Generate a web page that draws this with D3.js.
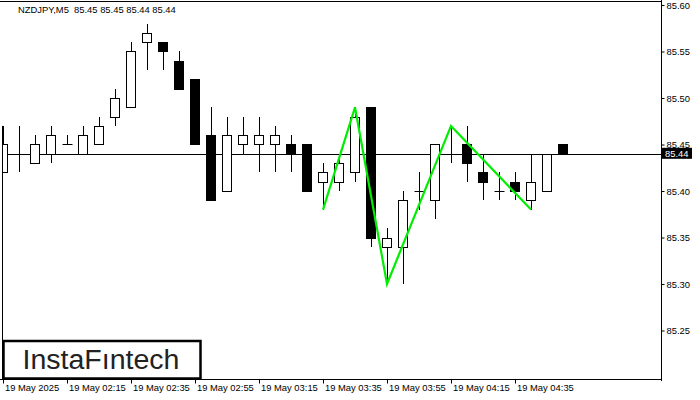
<!DOCTYPE html>
<html><head><meta charset="utf-8">
<script src="https://cdn.jsdelivr.net/npm/d3@7"></script>
<style>
html,body{margin:0;padding:0;background:#fff;}
svg{display:block;}
text{font-family:"Liberation Sans",Arial,sans-serif;}
</style></head>
<body>
<svg id="c" width="700" height="400"></svg>
<script>
const symbol = "NZDJPY,M5";
const lastOHLC = ["85.45","85.45","85.44","85.44"];
const times = ["01:55","02:00","02:05","02:10","02:15","02:20","02:25","02:30","02:35","02:40","02:45","02:50",
  "02:55","03:00","03:05","03:10","03:15","03:20","03:25","03:30","03:35","03:40","03:45","03:50",
  "03:55","04:00","04:05","04:10","04:15","04:20","04:25","04:30","04:35","04:40","04:45","04:50"];
const open  = [85.42,85.44,85.43,85.44,85.45,85.44,85.45,85.48,85.49,85.56,85.56,85.54,
  85.52,85.46,85.40,85.45,85.45,85.45,85.45,85.45,85.41,85.41,85.42,85.49,
  85.34,85.34,85.40,85.39,85.44,85.45,85.42,85.40,85.41,85.39,85.40,85.45];
const high  = [85.47,85.47,85.46,85.47,85.46,85.47,85.48,85.51,85.56,85.58,85.56,85.55,
  85.52,85.49,85.48,85.48,85.48,85.47,85.46,85.45,85.43,85.44,85.49,85.49,
  85.36,85.40,85.42,85.45,85.47,85.47,85.44,85.42,85.42,85.44,85.44,85.45];
const low   = [85.42,85.42,85.43,85.43,85.45,85.44,85.45,85.47,85.49,85.53,85.53,85.51,
  85.45,85.39,85.40,85.44,85.42,85.42,85.42,85.40,85.38,85.40,85.41,85.34,
  85.30,85.30,85.38,85.37,85.43,85.41,85.39,85.39,85.39,85.38,85.40,85.44];
const close = [85.45,85.44,85.45,85.46,85.45,85.46,85.47,85.50,85.55,85.57,85.55,85.51,
  85.45,85.39,85.46,85.46,85.46,85.46,85.44,85.40,85.42,85.43,85.48,85.35,
  85.35,85.39,85.40,85.45,85.44,85.43,85.41,85.40,85.40,85.41,85.44,85.44];
const currentPrice = 85.44;
const yTicks = [85.25,85.30,85.35,85.40,85.45,85.50,85.55,85.60];
const xTickTimes = ["01:55","02:15","02:35","02:55","03:15","03:35","03:55","04:15","04:35"];
const xTickLabels = ["19 May 2025","19 May 02:15","19 May 02:35","19 May 02:55","19 May 03:15","19 May 03:35","19 May 03:55","19 May 04:15","19 May 04:35"];
const patternTimes  = ["03:35","03:45","03:55","04:15","04:40"];
const patternPrices = [85.38,85.49,85.30,85.47,85.38];
const logoText = "InstaF\u0131ntech";

const parseT = s => { const [h,m] = s.split(":").map(Number); return new Date(2025,4,19,h,m); };
const svg = d3.select("#c");
const plotRight = 661, plotBottom = 379;

const x = d3.scaleTime().domain([parseT("01:55"), parseT("04:55")]).range([3, 579]);
const y = d3.scaleLinear().domain([85.25, 85.60]).range([330.5, 5]);

const candles = times.map((t,i)=>({t:parseT(t),o:open[i],h:high[i],l:low[i],c:close[i]}));

const clip = svg.append("defs").append("clipPath").attr("id","pc")
  .append("rect").attr("x",3).attr("y",3).attr("width",plotRight-3).attr("height",plotBottom-3);

// frame
svg.append("line").attr("x1",0).attr("x2",plotRight).attr("y1",1.5).attr("y2",1.5).attr("stroke","#000");
svg.append("line").attr("x1",2.5).attr("x2",2.5).attr("y1",y(high[0])).attr("y2",plotBottom).attr("stroke","#000");

const g = svg.append("g").attr("clip-path","url(#pc)");
// current price line
g.append("line").attr("x1",0).attr("x2",plotRight).attr("y1",Math.round(y(currentPrice))+0.5).attr("y2",Math.round(y(currentPrice))+0.5)
  .attr("stroke","#000").attr("stroke-width",1);

const cx = d => Math.round(x(d.t)) + 0.5;
// wicks
g.selectAll("line.wick").data(candles).join("line").attr("class","wick")
  .attr("x1",cx).attr("x2",cx).attr("y1",d=>Math.round(y(d.h))).attr("y2",d=>Math.round(y(d.l)))
  .attr("stroke","#000").attr("stroke-width",1);
// bodies
g.selectAll("rect.body").data(candles.filter(d=>d.o!==d.c)).join("rect").attr("class","body")
  .attr("x",d=>cx(d)-5).attr("width",9)
  .attr("y",d=>Math.round(y(Math.max(d.o,d.c)))+0.5)
  .attr("height",d=>Math.max(1,Math.round(y(Math.min(d.o,d.c)))-Math.round(y(Math.max(d.o,d.c)))))
  .attr("fill",d=>d.c>d.o?"#fff":"#000").attr("stroke","#000").attr("stroke-width",1);
// doji
g.selectAll("line.doji").data(candles.filter(d=>d.o===d.c)).join("line").attr("class","doji")
  .attr("x1",d=>cx(d)-5).attr("x2",d=>cx(d)+5)
  .attr("y1",d=>Math.round(y(d.o))+0.5).attr("y2",d=>Math.round(y(d.o))+0.5)
  .attr("stroke","#000");

// pattern line
const pts = patternTimes.map((t,i)=>[x(parseT(t)), y(patternPrices[i])]);
g.append("path").attr("d", d3.line()(pts)).attr("fill","none").attr("stroke","#00ee00").attr("stroke-width",2.2)
  .attr("stroke-linejoin","miter");

// right axis
const ay = svg.append("g").attr("transform",`translate(${plotRight+0.5},0)`)
  .call(d3.axisRight(y).tickValues(yTicks).tickSize(3).tickSizeOuter(0).tickFormat(d3.format(".2f")));
ay.select(".domain").remove();
ay.selectAll("text").attr("x",5).attr("font-size","9.4px").attr("font-family","Liberation Sans, Arial, sans-serif").attr("fill","#000");
ay.selectAll(".tick line").attr("stroke","#000");
svg.append("line").attr("x1",plotRight+0.5).attr("x2",plotRight+0.5).attr("y1",0).attr("y2",plotBottom+2).attr("stroke","#000");

// bottom axis
const ax = svg.append("g").attr("transform",`translate(0,${plotBottom+0.5})`)
  .call(d3.axisBottom(x).tickValues(xTickTimes.map(parseT)).tickSize(4).tickSizeOuter(0)
    .tickFormat((d,i)=>xTickLabels[i]));
ax.select(".domain").remove();
ax.selectAll(".tick line").attr("stroke","#000");
ax.selectAll("text").attr("text-anchor","start").attr("x",1.5).attr("y",5).attr("dy","0.71em")
  .attr("font-size","9.4px").attr("font-family","Liberation Sans, Arial, sans-serif").attr("fill","#000");
svg.append("line").attr("x1",0).attr("x2",plotRight+1).attr("y1",plotBottom+0.5).attr("y2",plotBottom+0.5).attr("stroke","#000");

// current price label
const cy = y(currentPrice);
svg.append("rect").attr("x",662).attr("y",cy-6).attr("width",30).attr("height",11).attr("fill","#000");
svg.append("text").attr("x",665).attr("y",cy+3.5).attr("font-size","9.4px").attr("fill","#fff").text(d3.format(".2f")(currentPrice));

// title
svg.append("text").attr("x",18).attr("y",13).attr("font-size","9.4px").attr("fill","#000")
  .attr("xml:space","preserve").style("white-space","pre")
  .text(symbol + "  " + lastOHLC.join(" "));

// logo
svg.append("rect").attr("x",3.5).attr("y",341).attr("width",197).attr("height",37.5)
  .attr("fill","#fff").attr("stroke","#000").attr("stroke-width",2.5);
svg.append("text").attr("x",101).attr("y",369).attr("text-anchor","middle")
  .attr("font-family","Lato, 'Open Sans', sans-serif").attr("font-size","27px").attr("fill","#222")
  .attr("textLength",157).attr("lengthAdjust","spacingAndGlyphs").text(logoText);
</script>
</body></html>
